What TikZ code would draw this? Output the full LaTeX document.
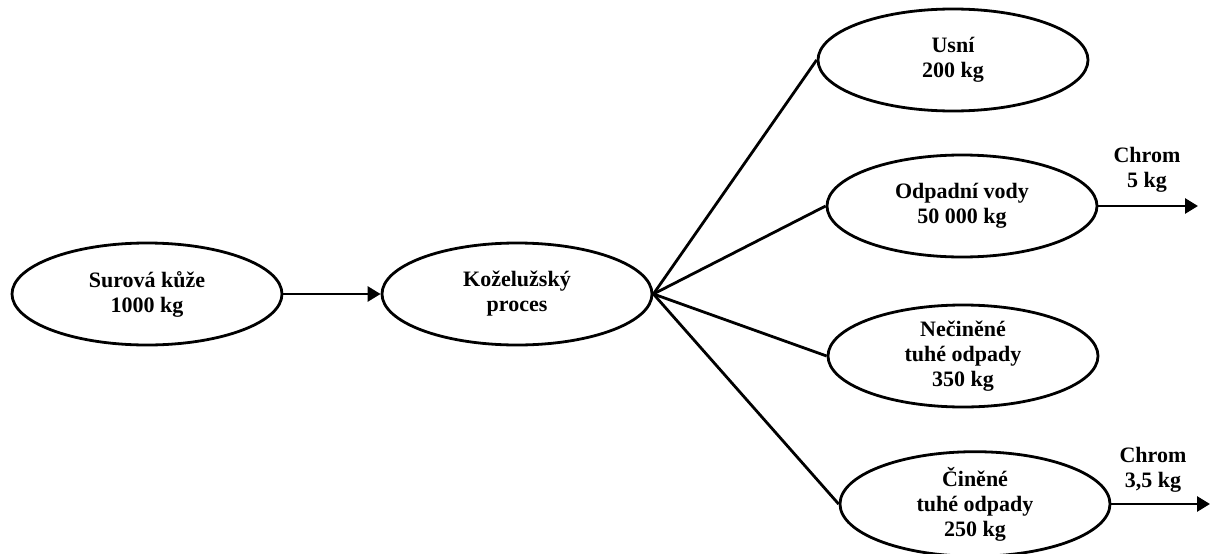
\documentclass[tikz,border=0pt]{standalone}
\usepackage{fontspec}
\setmainfont{Liberation Serif}
\usetikzlibrary{shapes.geometric,arrows.meta}
\begin{document}
\begin{tikzpicture}[x=1pt,y=-1pt,
  proc/.style={ellipse,draw,line width=2.8pt,minimum width=270pt,minimum height=102pt,inner sep=0pt,align=center,font=\fontsize{22}{25}\selectfont\bfseries},
  lbl/.style={align=center,font=\fontsize{22}{25}\selectfont\bfseries,inner sep=0pt},
  conn/.style={line width=2.8pt},
  arr/.style={line width=2.8pt,-{Triangle[length=13pt,width=15pt]}}]
\useasboundingbox (0,0) rectangle (1218,554);
\node[proc] (raw) at (147,294) {Surová kůže\\1000 kg};
\node[proc] (tan) at (517,294) {Koželužský\\proces};
\node[proc] (usn) at (953,60) {Usní\\200 kg};
\node[proc] (wat) at (962,206) {Odpadní vody\\50 000 kg};
\node[proc] (nec) at (963,356) {Nečiněné\\tuhé odpady\\350 kg};
\node[proc] (cin) at (975,504) {Činěné\\tuhé odpady\\250 kg};
\coordinate (e1) at (1198,206);
\coordinate (e2) at (1210,504);
\draw[arr] (raw.east) -- (tan.west);
\draw[conn] (tan.east) -- (usn.west);
\draw[conn] (tan.east) -- (wat.west);
\draw[conn] (tan.east) -- (nec.west);
\draw[conn] (tan.east) -- (cin.west);
\draw[arr] (wat.east) -- (e1);
\draw[arr] (cin.east) -- (e2);
\node[lbl] (c1) at (1147,170) {Chrom\\5 kg};
\node[lbl] (c2) at (1153,470) {Chrom\\3,5 kg};
\end{tikzpicture}
\end{document}
